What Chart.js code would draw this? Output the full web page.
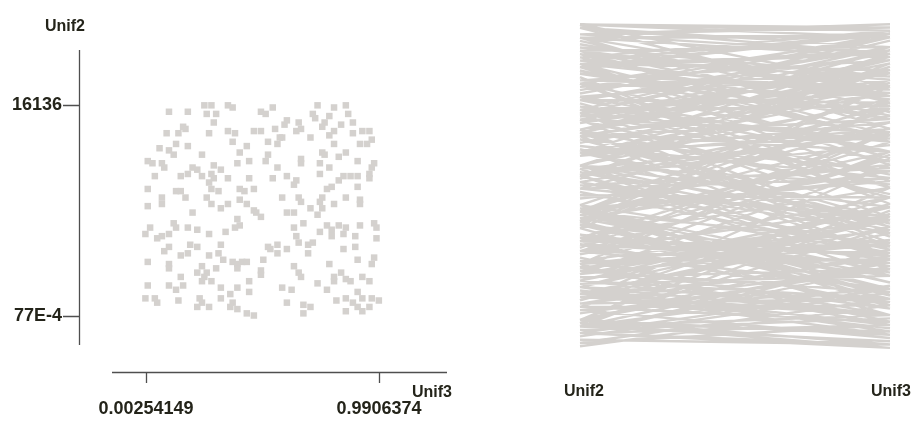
<!DOCTYPE html>
<html>
<head>
<meta charset="utf-8">
<script src="https://cdn.jsdelivr.net/npm/chart.js@4"></script>
<style>
html,body{margin:0;padding:0;background:#fff;}
#wrap{position:relative;width:911px;height:427px;overflow:hidden;}
#scatter{position:absolute;left:0;top:0;}
#parallel{position:absolute;left:470px;top:0;}
</style>
</head>
<body>
<div id="wrap">
<canvas id="scatter" width="470" height="427"></canvas>
<canvas id="parallel" width="441" height="427"></canvas>
</div>
<script>
/* DATA */
const axisNames=["Unif2","Unif3"];

const unif3=[
0.25,0.28,0.35,0.37,0.10,0.18,0.26,0.30,0.29,0.16,
0.17,0.09,0.14,0.27,0.35,0.38,0.46,0.37,0.13,0.18,
0.06,0.10,0.12,0.24,0.40,0.43,0.01,0.03,0.07,0.08,
0.39,0.44,0.20,0.22,0.29,0.32,0.15,0.18,0.04,0.24,
0.28,0.29,0.35,0.44,0.01,0.15,0.17,0.27,0.28,0.31,
0.40,0.42,0.46,0.07,0.13,0.26,0.28,0.35,0.40,0.01,
0.07,0.43,0.49,0.51,0.54,0.73,0.80,0.85,0.71,0.72,
0.78,0.86,0.60,0.59,0.65,0.76,0.75,0.83,0.88,0.49,
0.55,0.64,0.66,0.70,0.57,0.58,0.78,0.80,0.88,0.92,
0.95,0.52,0.56,0.80,0.91,0.94,0.96,0.52,0.51,0.66,
0.66,0.75,0.76,0.82,0.85,0.90,0.56,0.74,0.78,0.97,
0.96,0.54,0.60,0.64,0.63,0.74,0.84,0.87,0.90,0.82,
0.95,0.95,0.77,0.79,0.90,0.58,0.65,0.66,0.75,0.74,
0.80,0.85,0.91,0.91,0.70,0.75,0.32,0.46,0.20,0.02,
0.00,0.12,0.13,0.18,0.22,0.27,0.34,0.39,0.40,0.38,
0.05,0.07,0.10,0.32,0.19,0.22,0.10,0.08,0.15,0.18,
0.27,0.31,0.01,0.10,0.10,0.33,0.37,0.39,0.41,0.43,
0.39,0.24,0.26,0.30,0.15,0.22,0.25,0.28,0.24,0.44,
0.01,0.10,0.13,0.16,0.32,0.39,0.36,0.44,0.00,0.04,
0.05,0.14,0.23,0.24,0.22,0.27,0.32,0.37,0.36,0.39,
0.43,0.46,0.60,0.63,0.47,0.49,0.73,0.67,0.63,0.77,
0.79,0.82,0.85,0.91,0.97,0.98,0.74,
0.79,0.84,0.89,0.98,0.64,
0.52,0.53,0.56,0.56,0.60,0.65,0.69,0.71,0.69,
0.84,0.89,0.90,0.97,0.96,0.50,0.63,
0.66,0.65,0.49,0.49,0.78,0.80,0.80,0.77,0.73,0.83,
0.85,0.87,0.92,0.95,0.58,0.62,0.90,0.92,0.96,0.99,
0.81,0.85,0.88,0.60,0.67,0.70,0.67,0.85,0.90,0.92,0.95
];

const unif2=[
0.99,0.99,0.99,0.98,0.96,0.96,0.95,0.95,0.91,0.89,
0.88,0.86,0.86,0.86,0.87,0.86,0.87,0.82,0.81,0.80,
0.79,0.78,0.76,0.76,0.77,0.80,0.73,0.72,0.72,0.70,
0.72,0.73,0.70,0.69,0.71,0.69,0.66,0.67,0.66,0.66,
0.67,0.65,0.65,0.65,0.60,0.59,0.56,0.63,0.60,0.59,
0.60,0.59,0.60,0.56,0.59,0.56,0.53,0.53,0.55,0.52,
0.53,0.53,0.96,0.95,0.98,0.99,0.98,0.99,0.95,0.93,
0.94,0.95,0.92,0.90,0.91,0.91,0.89,0.90,0.91,0.87,
0.88,0.87,0.88,0.84,0.84,0.84,0.85,0.87,0.86,0.87,
0.87,0.82,0.81,0.81,0.81,0.81,0.83,0.76,0.73,0.74,
0.72,0.77,0.76,0.75,0.77,0.73,0.70,0.72,0.70,0.72,
0.70,0.65,0.66,0.64,0.62,0.67,0.66,0.66,0.66,0.64,
0.67,0.65,0.60,0.61,0.61,0.56,0.56,0.54,0.56,0.54,
0.53,0.56,0.55,0.53,0.51,0.51,0.51,0.50,0.49,0.42,
0.39,0.44,0.42,0.42,0.41,0.39,0.40,0.46,0.43,0.42,
0.37,0.38,0.39,0.34,0.34,0.33,0.33,0.31,0.29,0.30,
0.29,0.30,0.26,0.25,0.23,0.27,0.26,0.25,0.26,0.26,
0.23,0.24,0.21,0.23,0.19,0.21,0.19,0.17,0.17,0.17,
0.15,0.15,0.13,0.15,0.14,0.14,0.11,0.12,0.09,0.09,
0.07,0.08,0.09,0.07,0.05,0.05,0.09,0.07,0.05,0.04,
0.02,0.01,0.49,0.49,0.49,0.47,0.48,0.44,0.42,0.43,
0.41,0.43,0.42,0.43,0.44,0.42,0.40,
0.38,0.39,0.38,0.37,0.38,
0.33,0.32,0.34,0.30,0.32,0.35,0.34,0.35,0.30,
0.32,0.33,0.27,0.28,0.25,0.27,0.24,
0.19,0.21,0.22,0.20,0.25,0.19,0.17,0.13,0.16,0.21,
0.18,0.17,0.19,0.17,0.14,0.13,0.12,0.09,0.09,0.08,
0.08,0.09,0.07,0.07,0.06,0.05,0.02,0.03,0.05,0.03,0.05
];

const xTicks=[0.00254149,0.9906374];
const xTickLabels=["0.00254149","0.9906374"];
const yTicks=[0.0077,0.9916];
const yTickLabels=["77E-4","16136"];

/* STYLE */
const markColor="#d4d1ce";
const axisColor="#4f4f4f";
const textColor="#24241a";
const tickFont='bold 18px "Liberation Sans", Arial, sans-serif';
const nameFont='bold 16px "Liberation Sans", Arial, sans-serif';

/* SCATTER (left) */
const scatterAxes={
  id:"scatterAxes",
  afterDraw(chart){
    const ctx=chart.ctx, xs=chart.scales.x, ys=chart.scales.y;
    ctx.save();
    ctx.strokeStyle=axisColor;
    ctx.lineWidth=1.3;
    ctx.beginPath();
    ctx.moveTo(79.5,50); ctx.lineTo(79.5,345);
    ctx.moveTo(112,372.5); ctx.lineTo(447,372.5);
    yTicks.forEach(v=>{
      const py=Math.round(ys.getPixelForValue(v))+0.5;
      ctx.moveTo(63,py); ctx.lineTo(79.5,py);
    });
    xTicks.forEach(v=>{
      const px=Math.round(xs.getPixelForValue(v))+0.5;
      ctx.moveTo(px,372.5); ctx.lineTo(px,383);
    });
    ctx.stroke();

    ctx.fillStyle=textColor;
    ctx.font=tickFont;
    ctx.textBaseline="middle";
    ctx.textAlign="right";
    yTicks.forEach((v,i)=>ctx.fillText(yTickLabels[i],62,ys.getPixelForValue(v)));
    ctx.textAlign="center";
    xTicks.forEach((v,i)=>ctx.fillText(xTickLabels[i],xs.getPixelForValue(v),409));
    ctx.font=nameFont;
    ctx.fillText(axisNames[0],65,27);
    ctx.fillText(axisNames[1],432,393);
    ctx.restore();
  }
};

new Chart(document.getElementById("scatter"),{
  type:"scatter",
  data:{
    datasets:[{
      data:unif3.map((v,i)=>({x:v,y:unif2[i]})),
      pointStyle:"rect",
      pointRadius:4.6,
      pointBorderWidth:0,
      backgroundColor:markColor,
      borderColor:markColor
    }]
  },
  options:{
    responsive:false,
    animation:false,
    events:[],
    layout:{padding:{left:140,right:85,top:98,bottom:104}},
    scales:{
      x:{type:"linear",min:-0.0229,max:1.0161,display:false},
      y:{type:"linear",min:-0.0249,max:1.0242,display:false}
    },
    plugins:{legend:{display:false},tooltip:{enabled:false}}
  },
  plugins:[scatterAxes]
});

/* PARALLEL COORDINATES (right)
   the strands in the picture run almost level, so each Unif2 value is
   paired with a nearby-ranked Unif3 value (local mixing keyed on the
   point's own Unif3) instead of its scatter partner */
const norm=(v,lo,hi)=>(v-lo)/(hi-lo);
const sorted3=[...unif3].sort((a,b)=>a-b);
const mixKey=i=>unif2[i]+0.8*(0.5-unif3[i]);
const mixOrder=unif2.map((v,i)=>i).sort((a,b)=>mixKey(a)-mixKey(b));
const pcRight=new Array(unif2.length);
mixOrder.forEach((idx,r)=>{pcRight[idx]=sorted3[r];});

const pcData=[];
unif2.forEach((v,i)=>{
  pcData.push({x:0,y:norm(v,yTicks[0],yTicks[1])});
  pcData.push({x:1,y:norm(pcRight[i],xTicks[0],xTicks[1])});
  pcData.push({x:0.5,y:null});
});

const parallelLabels={
  id:"parallelLabels",
  afterDraw(chart){
    const ctx=chart.ctx, xs=chart.scales.x;
    ctx.save();
    ctx.fillStyle=textColor;
    ctx.font=nameFont;
    ctx.textAlign="center";
    ctx.textBaseline="middle";
    ctx.fillText(axisNames[0],xs.getPixelForValue(0)+4,392);
    ctx.fillText(axisNames[1],xs.getPixelForValue(1)+1,392);
    ctx.restore();
  }
};

new Chart(document.getElementById("parallel"),{
  type:"scatter",
  data:{
    datasets:[{
      data:pcData,
      showLine:true,
      spanGaps:false,
      borderColor:markColor,
      borderWidth:2.4,
      pointRadius:0,
      clip:6
    }]
  },
  options:{
    responsive:false,
    animation:false,
    events:[],
    layout:{padding:{left:110,right:21,top:24,bottom:80}},
    scales:{
      x:{type:"linear",min:0,max:1,display:false},
      y:{type:"linear",min:0,max:1,display:false}
    },
    plugins:{legend:{display:false},tooltip:{enabled:false}}
  },
  plugins:[parallelLabels]
});
</script>
</body>
</html>
